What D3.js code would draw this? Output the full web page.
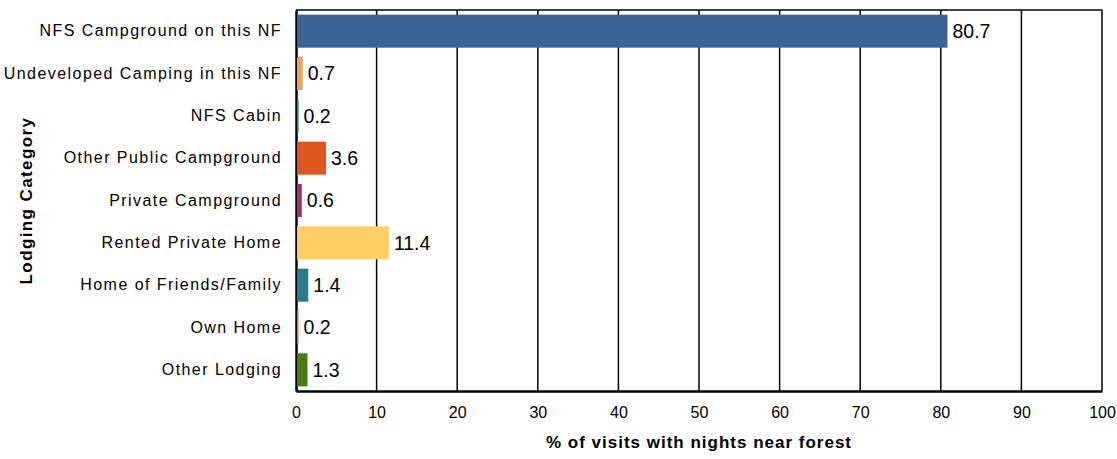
<!DOCTYPE html>
<html>
<head>
<meta charset="utf-8">
<script src="https://cdn.jsdelivr.net/npm/d3@7"></script>
<style>
  body { margin: 0; background: #fff; }
  text { font-family: "Liberation Sans", Arial, sans-serif; }
</style>
</head>
<body>
<svg id="chart" width="1117" height="459"></svg>
<script>
const categories = [
  "NFS Campground on this NF",
  "Undeveloped Camping in this NF",
  "NFS Cabin",
  "Other Public Campground",
  "Private Campground",
  "Rented Private Home",
  "Home of Friends/Family",
  "Own Home",
  "Other Lodging"
];
const values = [80.7, 0.7, 0.2, 3.6, 0.6, 11.4, 1.4, 0.2, 1.3];
const colors = ["#3a6496", "#f2a24e", "#00957a", "#df571f", "#a2306a", "#ffcf63", "#2a7a90", "#e9755f", "#487a16"];
const xTicks = [0, 10, 20, 30, 40, 50, 60, 70, 80, 90, 100];

const svg = d3.select("#chart");
const margin = { top: 10, right: 15, bottom: 68, left: 296 };
const width = +svg.attr("width");
const height = +svg.attr("height");
const innerW = width - margin.left - margin.right;
const innerH = height - margin.top - margin.bottom;

const g = svg.append("g").attr("transform", `translate(${margin.left},${margin.top})`);

const x = d3.scaleLinear().domain([0, 100]).range([0, innerW]);
const y = d3.scaleBand().domain(categories).range([0, innerH]).paddingInner(0.22).paddingOuter(0.11);

// vertical gridlines
g.append("g")
  .selectAll("line")
  .data(xTicks.slice(1))
  .join("line")
  .attr("x1", d => x(d)).attr("x2", d => x(d))
  .attr("y1", 0).attr("y2", innerH)
  .attr("stroke", "#000")
  .attr("stroke-width", 1.5);

// top border
g.append("line")
  .attr("x1", 0).attr("x2", innerW).attr("y1", 0).attr("y2", 0)
  .attr("stroke", "#000").attr("stroke-width", 1.5);

// axes
const xAxis = g.append("g")
  .attr("transform", `translate(0,${innerH})`)
  .call(d3.axisBottom(x).tickValues(xTicks).tickSize(0).tickPadding(16));
xAxis.select(".domain").attr("stroke", "#000").attr("stroke-width", 2.5);
xAxis.selectAll("text").style("font-size", "16px").attr("fill", "#000");

const yAxis = g.append("g")
  .call(d3.axisLeft(y).tickSize(0).tickPadding(14));
yAxis.select(".domain").attr("stroke", "#000").attr("stroke-width", 2.5);
yAxis.selectAll("text").style("font-size", "16px").style("letter-spacing", "1.45px").attr("fill", "#000");

// bars (drawn just right of the axis line, like the original)
g.append("g")
  .selectAll("rect")
  .data(values)
  .join("rect")
  .attr("x", x(0) + 1)
  .attr("y", (d, i) => y(categories[i]))
  .attr("width", d => x(d))
  .attr("height", y.bandwidth())
  .attr("fill", (d, i) => colors[i]);

// value labels
g.append("g")
  .selectAll("text")
  .data(values)
  .join("text")
  .attr("x", d => x(d) + 6)
  .attr("y", (d, i) => y(categories[i]) + y.bandwidth() / 2)
  .attr("dy", "0.35em")
  .style("font-size", "19.5px")
  .attr("fill", "#000")
  .text(d => d.toFixed(1));

// axis titles
svg.append("text")
  .attr("x", margin.left + innerW / 2)
  .attr("y", 448)
  .attr("text-anchor", "middle")
  .style("font-size", "17px")
  .style("font-weight", "bold")
  .style("letter-spacing", "1px")
  .text("% of visits with nights near forest");

svg.append("text")
  .attr("transform", `translate(32,${margin.top + innerH / 2}) rotate(-90)`)
  .attr("text-anchor", "middle")
  .style("font-size", "17px")
  .style("font-weight", "bold")
  .style("letter-spacing", "1.4px")
  .text("Lodging Category");
</script>
</body>
</html>
